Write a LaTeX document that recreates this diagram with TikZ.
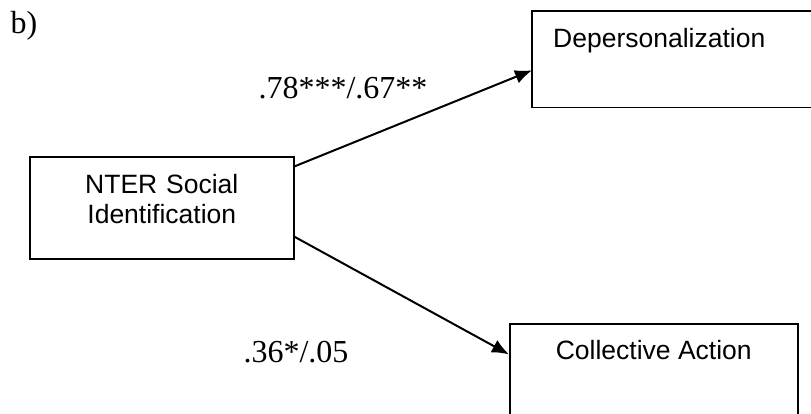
\documentclass[tikz,border=0pt]{standalone}
\usepackage{fontspec}
\setmainfont{Liberation Serif}
\newfontfamily\boxfont{Liberation Sans}
\usetikzlibrary{arrows.meta,positioning,calc}

\begin{document}
\begin{tikzpicture}[
    x=1pt, y=-1pt,
    boxline/.style={draw=black, line width=1.6pt},
    varbox/.style={rectangle, boxline, inner sep=0pt,
                   font=\boxfont\fontsize{26.5}{30}\selectfont},
    coef/.style={font=\fontsize{32}{36}\selectfont, inner sep=0pt},
    arrow/.style={-{Latex[length=17pt,width=14pt]}, line width=2pt}
]
\useasboundingbox (0,0) rectangle (811,414);
\clip (0,0) rectangle (811,414);

\node[varbox, anchor=north west, minimum width=264pt, align=center,
      text height=37pt, text depth=65pt, text width=264pt] (nter) at (29,156)
      {NTER Social\\Identification};
% box runs off the right edge of the page
\node[anchor=north west, minimum width=400pt, minimum height=96pt, inner sep=0pt]
      (dep) at (532,11) {};
\draw[boxline] (dep.north east) -- (dep.north west) -- (dep.south west) -- (dep.south east);
\node[font=\boxfont\fontsize{26.5}{30}\selectfont, anchor=base west, inner sep=0pt]
      (deplabel) at (553,48) {Depersonalization};
\node[varbox, anchor=north west, minimum width=288pt,
      text height=36pt, text depth=81pt] (coll) at (509,323) {Collective Action};

% paths
\draw[arrow] ($(nter.north east)!0.1!(nter.south east)$) -- ($(dep.north west)!0.615!(dep.south west)$);
\draw[arrow] ($(nter.north east)!0.78!(nter.south east)$) -- ($(coll.north west)!0.265!(coll.south west)$);

\node[coef] (c1) at (343,88) {.78***/.67**};
\node[coef] (c2) at (296,352) {.36*/.05};

\node[coef] (panel) at (24,26) {b)};

\end{tikzpicture}
\end{document}
